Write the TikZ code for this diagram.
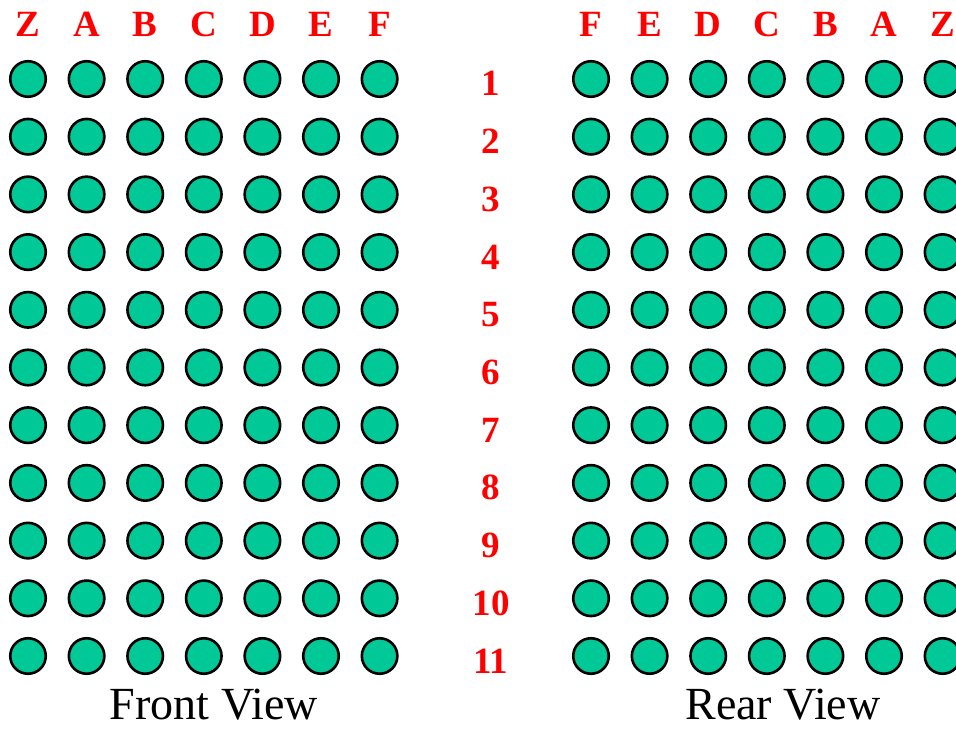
\documentclass[tikz,border=0pt]{standalone}
\usepackage{fontspec}
\setmainfont{Liberation Serif}
\usetikzlibrary{positioning}
\definecolor{pingreen}{RGB}{0,200,150}
\definecolor{labelred}{RGB}{255,0,0}
\tikzset{
  pin/.style={circle, draw=black, fill=pingreen, line width=2.6pt, minimum size=35.5pt, inner sep=0pt},
  collabel/.style={anchor=base, text=labelred, font=\fontsize{37}{37}\selectfont\bfseries},
  rowlabel/.style={anchor=base, text=labelred, font=\fontsize{37}{37}\selectfont\bfseries},
  viewlabel/.style={anchor=base, inner sep=0pt, font=\fontsize{46}{46}\selectfont}
}
\begin{document}
\begin{tikzpicture}[x=1pt, y=-1pt]
    \useasboundingbox (0,0) rectangle (956,730);
    \fill[white] (0,0) rectangle (956,730);

    % Front view: column letters and pins
    \foreach \c [count=\i from 0] in {Z,A,B,C,D,E,F} {
        \node[collabel] (fl-\c) at ({28+58.6*\i},37) {\c};
        \foreach \r in {1,...,11}
            \node[pin] (f-\c-\r) at ({28+58.6*\i},{79+57.7*(\r-1)}) {};
    }

    % Rear view: column letters and pins
    \foreach \c [count=\i from 0] in {F,E,D,C,B,A,Z} {
        \node[collabel] (rl-\c) at ({591+58.6*\i},37) {\c};
        \foreach \r in {1,...,11}
            \node[pin] (r-\c-\r) at ({591+58.6*\i},{79+57.7*(\r-1)}) {};
    }

    % Row numbers
    \foreach \r in {1,...,11}
        \node[rowlabel] (row\r) at (491,{96+57.7*(\r-1)}) {\r};

    % Captions
    \node[viewlabel] (front) at (214,719) {Front View};
    \node[viewlabel] (rear) at (783,719) {Rear View};
\end{tikzpicture}
\end{document}
